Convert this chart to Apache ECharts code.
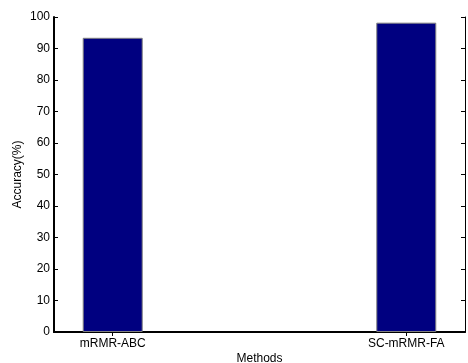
<!DOCTYPE html>
<html>
<head>
<meta charset="utf-8">
<script src="https://cdn.jsdelivr.net/npm/echarts@6/dist/echarts.min.js"></script>
<style>html,body{margin:0;padding:0;background:#fff;}#c{width:468px;height:363px;}</style>
</head>
<body>
<div id="c"></div>
<script>
var categories = ['mRMR-ABC', 'SC-mRMR-FA'];
var positions = [1, 2];
var accuracy = [93.4, 98.2];
var yTicks = [0, 10, 20, 30, 40, 50, 60, 70, 80, 90, 100];

var chart = echarts.init(document.getElementById('c'), null, {renderer: 'canvas'});
var font = 'Liberation Sans, Arial, sans-serif';
var data = positions.map(function (p, i) { return [p, accuracy[i]]; });
var thin = {color: '#000', width: 1};
var thick = {color: '#000', width: 2};
chart.setOption({
  animation: false,
  backgroundColor: '#fff',
  grid: {left: 54, top: 17, right: 3, bottom: 31, containLabel: false, outerBoundsMode: 'none'},
  xAxis: [{
    type: 'value', min: 0.8, max: 2.2, position: 'bottom',
    name: 'Methods', nameLocation: 'middle', nameGap: 21, nameMoveOverlap: false,
    nameTextStyle: {fontFamily: font, fontSize: 12, color: '#000'},
    axisLine: {show: true, lineStyle: thick},
    axisTick: {show: true, inside: true, length: 4, customValues: positions, lineStyle: thin},
    axisLabel: {show: true, customValues: positions, margin: 6, fontFamily: font, fontSize: 12, color: '#000',
      formatter: function (v) { var i = positions.indexOf(Math.round(v)); return i >= 0 ? categories[i] : ''; }},
    splitLine: {show: false}
  }, {
    type: 'value', min: 0.8, max: 2.2, position: 'top',
    axisLine: {show: true, lineStyle: thin},
    axisTick: {show: true, inside: true, length: 4, customValues: positions, lineStyle: thin},
    axisLabel: {show: false},
    splitLine: {show: false}
  }],
  yAxis: [{
    type: 'value', min: 0, max: 100, interval: 10, position: 'left',
    name: 'Accuracy(%)', nameLocation: 'middle', nameGap: 30, nameMoveOverlap: false,
    nameTextStyle: {fontFamily: font, fontSize: 12, color: '#000'},
    axisLine: {show: true, lineStyle: thick},
    axisTick: {show: true, inside: true, length: 4, customValues: yTicks, lineStyle: thin},
    axisLabel: {show: true, customValues: yTicks, margin: 4, fontFamily: font, fontSize: 12, color: '#000'},
    splitLine: {show: false}
  }, {
    type: 'value', min: 0, max: 100, interval: 10, position: 'right',
    axisLine: {show: true, lineStyle: thin},
    axisTick: {show: true, inside: true, length: 4, customValues: yTicks, lineStyle: thin},
    axisLabel: {show: false},
    splitLine: {show: false}
  }],
  series: [{
    type: 'bar', xAxisIndex: 0, yAxisIndex: 0,
    data: data, barWidth: 60,
    itemStyle: {color: '#000080', borderColor: '#808080', borderWidth: 1}
  }]
});
</script>
</body>
</html>
